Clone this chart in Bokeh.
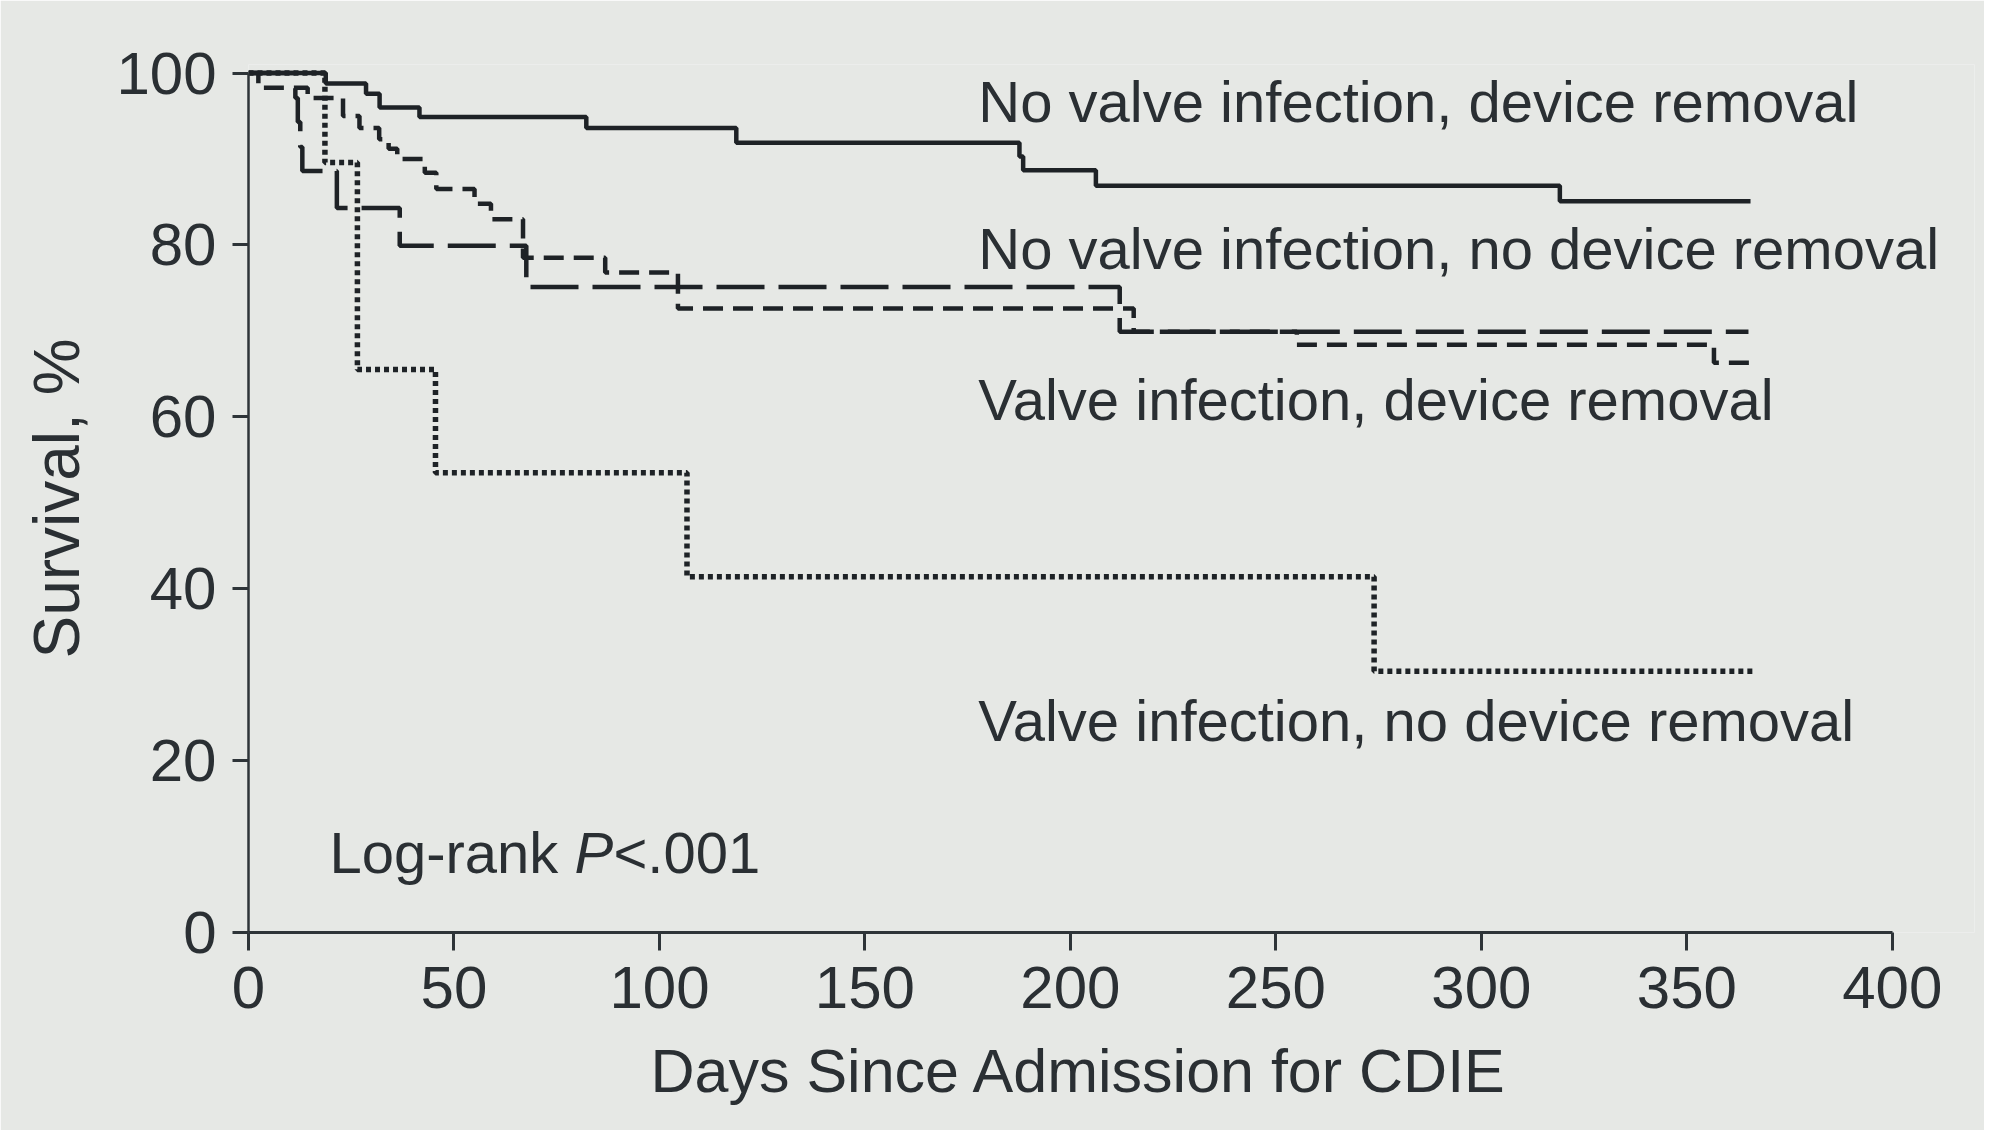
from bokeh.plotting import figure
from bokeh.models import Range1d, FixedTicker
from bokeh.core.properties import value
from bokeh.embed import file_html
from bokeh.resources import INLINE

# ---- data (days, survival %) ----
x_ticks = [0, 50, 100, 150, 200, 250, 300, 350, 400]
y_ticks = [0, 20, 40, 60, 80, 100]

# No valve infection, device removal (solid)
nv_dr_t = [0, 18.8, 28.6, 31.9, 41.6, 82.2, 118.7, 187.6, 188.5, 206.2, 319.1, 365.5]
nv_dr_s = [100, 98.8, 97.6, 96.0, 94.9, 93.6, 91.9, 90.3, 88.7, 86.9, 85.1, 85.1]

# No valve infection, no device removal (long dash)
nv_ndr_t = [0, 11.4, 12.0, 12.6, 13.1, 21.5, 36.8, 67.6, 212.0, 365.0]
nv_ndr_s = [100, 97.1, 94.3, 91.4, 88.6, 84.3, 79.9, 75.1, 69.9, 69.9]

# Valve infection, device removal (short dash)
v_dr_t = [0, 2.4, 14.4, 23.0, 27.0, 31.8, 34.1, 36.2, 42.9, 45.7, 55.0, 59.0,
          66.8, 86.8, 104.5, 215.4, 255.1, 356.6, 365.8]
v_dr_s = [100, 98.3, 97.1, 95.0, 93.6, 92.3, 91.2, 90.0, 88.4, 86.5, 84.8, 83.0,
          78.5, 76.8, 72.6, 69.9, 68.4, 66.3, 66.3]

# Valve infection, no device removal (dotted)
v_ndr_t = [0, 18.6, 26.5, 45.5, 106.7, 273.9, 366.3]
v_ndr_s = [100, 89.6, 65.5, 53.5, 41.4, 30.4, 30.4]

curve_labels = ["No valve infection, device removal",
                "No valve infection, no device removal",
                "Valve infection, device removal",
                "Valve infection, no device removal"]
label_x = [177.6, 177.6, 177.6, 177.6]
label_y = [96.7, 79.6, 62.0, 24.7]

FONT = "Liberation Sans"
INK = "#1e2226"
TXT = "#2a2f33"
BG = "#e6e8e5"

p = figure(width=1984, height=1130,
           x_range=Range1d(0, 420), y_range=Range1d(0, 101),
           output_backend="svg", toolbar_location=None,
           min_border_left=248, min_border_right=10,
           min_border_top=64, min_border_bottom=198,
           title="Days Since Admission for CDIE", title_location="below")

p.background_fill_color = BG
p.border_fill_color = BG
p.outline_line_color = None
p.xgrid.visible = False
p.ygrid.visible = False

# curves
p.step(nv_dr_t, nv_dr_s, mode="after", line_color=INK, line_width=4.5)
p.step(nv_ndr_t, nv_ndr_s, mode="after", line_color=INK, line_width=4.5,
       line_dash="48 14")
p.step(v_dr_t, v_dr_s, mode="after", line_color=INK, line_width=4.5,
       line_dash="20 10")
p.step(v_ndr_t, v_ndr_s, mode="after", line_color=INK, line_width=5.5,
       line_dash="5 4")

# curve labels
p.text(x=label_x, y=label_y, text=curve_labels,
       text_font=value(FONT), text_font_size="58px",
       text_color=TXT, text_align="left", text_baseline="alphabetic")

# log-rank annotation
lr_x, lr_y = 19.7, 9.3
p.text(x=[lr_x], y=[lr_y], text=["Log-rank "], text_font=value(FONT),
       text_font_size="58px", text_color=TXT, text_baseline="alphabetic")
p.text(x=[lr_x], y=[lr_y], text=["P"], x_offset=245, text_font=value(FONT),
       text_font_style="italic", text_font_size="58px", text_color=TXT,
       text_baseline="alphabetic")
p.text(x=[lr_x], y=[lr_y], text=["<.001"], x_offset=284, text_font=value(FONT),
       text_font_size="58px", text_color=TXT, text_baseline="alphabetic")

# axes
for ax in (p.xaxis[0], p.yaxis[0]):
    ax.axis_line_color = "#2e3438"
    ax.axis_line_width = 3
    ax.major_tick_line_color = "#2e3438"
    ax.major_tick_line_width = 3
    ax.major_tick_in = 0
    ax.minor_tick_line_color = None
    ax.major_label_text_font = FONT
    ax.major_label_text_font_size = "60px"
    ax.major_label_text_color = TXT
    ax.axis_label_text_font = FONT
    ax.axis_label_text_font_style = "normal"
    ax.axis_label_text_color = TXT

p.yaxis.axis_line_width = 2.5

p.xaxis.ticker = FixedTicker(ticks=x_ticks)
p.xaxis.bounds = (0, 400)
p.xaxis.major_tick_out = 18
p.xaxis.major_label_standoff = 16

p.yaxis.ticker = FixedTicker(ticks=y_ticks)
p.yaxis.bounds = (0, 100)
p.yaxis.major_tick_out = 16
p.yaxis.major_label_standoff = 16
p.yaxis.axis_label = "Survival, %"
p.yaxis.axis_label_text_font_size = "64px"
p.yaxis.axis_label_standoff = 20

# x-axis title (as plot title below, placed over the 0-400 axis)
p.title.align = "left"
p.title.offset = 402
p.title.standoff = 48
p.title.text_font = FONT
p.title.text_font_size = "61px"
p.title.text_font_style = "normal"
p.title.text_color = TXT
p.title.background_fill_color = None

open("out.html", "w").write(file_html(p, INLINE))
